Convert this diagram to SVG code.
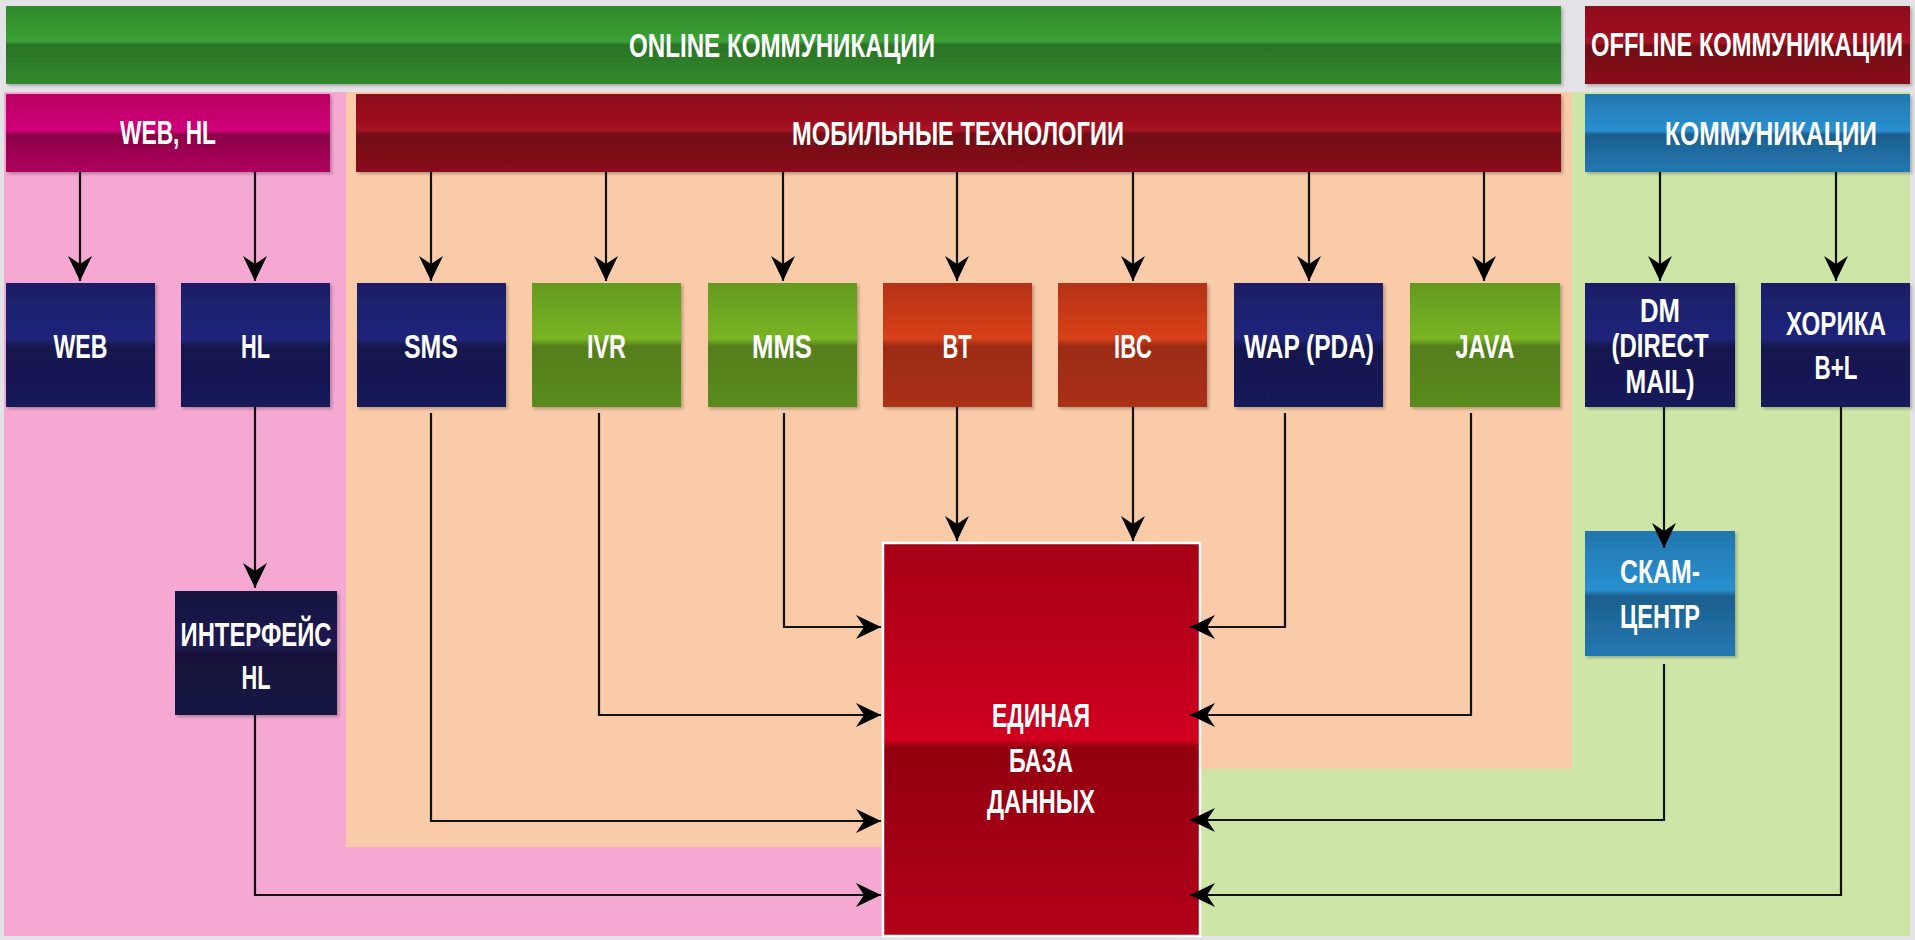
<svg xmlns="http://www.w3.org/2000/svg" width="1915" height="940" viewBox="0 0 1915 940">
<style>
.t{font-family:"Liberation Sans Narrow","Liberation Sans","DejaVu Sans Condensed",sans-serif;font-weight:bold;font-size:34px;font-stretch:condensed;fill:#fff;text-anchor:middle}
.c{fill:none;stroke:#111;stroke-width:2.2}
</style>
<defs>
<linearGradient id="gBar" x1="0" y1="0" x2="0" y2="1"><stop offset="0" stop-color="#2e8a2a"/><stop offset="0.45" stop-color="#3ba136"/><stop offset="0.5" stop-color="#2a7326"/><stop offset="1" stop-color="#33892d"/></linearGradient>
<linearGradient id="gRed" x1="0" y1="0" x2="0" y2="1"><stop offset="0" stop-color="#8b0d1a"/><stop offset="0.47" stop-color="#a51222"/><stop offset="0.52" stop-color="#700a15"/><stop offset="1" stop-color="#8a0e1b"/></linearGradient>
<linearGradient id="gMag" x1="0" y1="0" x2="0" y2="1"><stop offset="0" stop-color="#b8005f"/><stop offset="0.47" stop-color="#d0007a"/><stop offset="0.52" stop-color="#8a0046"/><stop offset="1" stop-color="#b0005e"/></linearGradient>
<linearGradient id="gBlue" x1="0" y1="0" x2="0" y2="1"><stop offset="0" stop-color="#2376ae"/><stop offset="0.47" stop-color="#2990d0"/><stop offset="0.52" stop-color="#1c5f8e"/><stop offset="1" stop-color="#2478b2"/></linearGradient>
<linearGradient id="gNavy" x1="0" y1="0" x2="0" y2="1"><stop offset="0" stop-color="#1b1e66"/><stop offset="0.45" stop-color="#20247a"/><stop offset="0.51" stop-color="#15174f"/><stop offset="1" stop-color="#181a5a"/></linearGradient>
<linearGradient id="gGreen" x1="0" y1="0" x2="0" y2="1"><stop offset="0" stop-color="#64991f"/><stop offset="0.45" stop-color="#78b424"/><stop offset="0.51" stop-color="#557e1d"/><stop offset="1" stop-color="#5a8c1f"/></linearGradient>
<linearGradient id="gOrange" x1="0" y1="0" x2="0" y2="1"><stop offset="0" stop-color="#b33214"/><stop offset="0.45" stop-color="#d8401a"/><stop offset="0.51" stop-color="#9c2c12"/><stop offset="1" stop-color="#aa3014"/></linearGradient>
<linearGradient id="gDark" x1="0" y1="0" x2="0" y2="1"><stop offset="0" stop-color="#16133f"/><stop offset="0.45" stop-color="#1c1a50"/><stop offset="0.5" stop-color="#14113a"/><stop offset="1" stop-color="#181546"/></linearGradient>
<linearGradient id="gDB" x1="0" y1="0" x2="0" y2="1"><stop offset="0" stop-color="#a50016"/><stop offset="0.42" stop-color="#c8001d"/><stop offset="0.5" stop-color="#d2001f"/><stop offset="0.52" stop-color="#92000f"/><stop offset="1" stop-color="#b20019"/></linearGradient>
<filter id="sh" x="-5%" y="-5%" width="115%" height="115%"><feDropShadow dx="2" dy="2" stdDeviation="1.5" flood-color="#000" flood-opacity="0.25"/></filter>
<marker id="ah" markerUnits="userSpaceOnUse" markerWidth="28" markerHeight="28" viewBox="-26 -13 28 26" refX="0" refY="0" orient="auto">
<path d="M0,0 L-25,-12 L-17,0 L-25,12 Z" fill="#000"/>
</marker>
</defs>
<rect x="0" y="0" width="1915" height="940" fill="#e3e3e7"/>
<g id="backgrounds">
<rect x="4" y="92" width="879" height="844" fill="#f4a8d2"/>
<rect x="1200" y="92" width="710" height="844" fill="#cde6a8"/>
<path d="M346,92 H1572 V769 H1041 V847 H346 Z" fill="#f9cba8"/>
</g>
<g id="online">
<rect x="6" y="6" width="1555" height="78" fill="url(#gBar)" filter="url(#sh)"/>
<text class="t" x="782" y="57" textLength="306" lengthAdjust="spacingAndGlyphs">ONLINE КОММУНИКАЦИИ</text>
</g>
<g id="offline">
<rect x="1585" y="6" width="325" height="78" fill="url(#gRed)" filter="url(#sh)"/>
<text class="t" x="1747" y="56" textLength="312" lengthAdjust="spacingAndGlyphs">OFFLINE КОММУНИКАЦИИ</text>
</g>
<g id="webhl">
<rect x="6" y="94" width="324" height="78" fill="url(#gMag)" filter="url(#sh)"/>
<text class="t" x="168" y="144" textLength="96" lengthAdjust="spacingAndGlyphs">WEB, HL</text>
</g>
<g id="mobile">
<rect x="356" y="94" width="1205" height="78" fill="url(#gRed)" filter="url(#sh)"/>
<text class="t" x="958" y="145" textLength="332" lengthAdjust="spacingAndGlyphs">МОБИЛЬНЫЕ ТЕХНОЛОГИИ</text>
</g>
<g id="komm">
<rect x="1585" y="94" width="325" height="78" fill="url(#gBlue)" filter="url(#sh)"/>
<text class="t" x="1771" y="145" textLength="212" lengthAdjust="spacingAndGlyphs">КОММУНИКАЦИИ</text>
</g>
<g id="web">
<rect x="6" y="283" width="149" height="124" fill="url(#gNavy)" filter="url(#sh)"/>
<text class="t" x="80.5" y="358" textLength="54" lengthAdjust="spacingAndGlyphs">WEB</text>
</g>
<g id="hl">
<rect x="181" y="283" width="149" height="124" fill="url(#gNavy)" filter="url(#sh)"/>
<text class="t" x="255.5" y="358" textLength="29" lengthAdjust="spacingAndGlyphs">HL</text>
</g>
<g id="sms">
<rect x="357" y="283" width="149" height="124" fill="url(#gNavy)" filter="url(#sh)"/>
<text class="t" x="431" y="358" textLength="54" lengthAdjust="spacingAndGlyphs">SMS</text>
</g>
<g id="ivr">
<rect x="532" y="283" width="149" height="124" fill="url(#gGreen)" filter="url(#sh)"/>
<text class="t" x="606.5" y="358" textLength="39" lengthAdjust="spacingAndGlyphs">IVR</text>
</g>
<g id="mms">
<rect x="708" y="283" width="149" height="124" fill="url(#gGreen)" filter="url(#sh)"/>
<text class="t" x="782" y="358" textLength="60" lengthAdjust="spacingAndGlyphs">MMS</text>
</g>
<g id="bt">
<rect x="883" y="283" width="149" height="124" fill="url(#gOrange)" filter="url(#sh)"/>
<text class="t" x="957" y="358" textLength="29" lengthAdjust="spacingAndGlyphs">BT</text>
</g>
<g id="ibc">
<rect x="1058" y="283" width="149" height="124" fill="url(#gOrange)" filter="url(#sh)"/>
<text class="t" x="1133" y="358" textLength="38" lengthAdjust="spacingAndGlyphs">IBC</text>
</g>
<g id="wap">
<rect x="1234" y="283" width="149" height="124" fill="url(#gNavy)" filter="url(#sh)"/>
<text class="t" x="1309" y="358" textLength="130" lengthAdjust="spacingAndGlyphs">WAP (PDA)</text>
</g>
<g id="java">
<rect x="1410" y="283" width="150" height="124" fill="url(#gGreen)" filter="url(#sh)"/>
<text class="t" x="1485" y="358" textLength="59" lengthAdjust="spacingAndGlyphs">JAVA</text>
</g>
<g id="dm">
<rect x="1585" y="283" width="150" height="124" fill="url(#gNavy)" filter="url(#sh)"/>
<text class="t" x="1660" y="322" textLength="40" lengthAdjust="spacingAndGlyphs">DM</text>
<text class="t" x="1660" y="357" textLength="97" lengthAdjust="spacingAndGlyphs">(DIRECT</text>
<text class="t" x="1660" y="393" textLength="69" lengthAdjust="spacingAndGlyphs">MAIL)</text>
</g>
<g id="horika">
<rect x="1761" y="283" width="149" height="124" fill="url(#gNavy)" filter="url(#sh)"/>
<text class="t" x="1836" y="335" textLength="100" lengthAdjust="spacingAndGlyphs">ХОРИКА</text>
<text class="t" x="1836" y="379" textLength="43" lengthAdjust="spacingAndGlyphs">B+L</text>
</g>
<g id="interface">
<rect x="175" y="591" width="162" height="124" fill="url(#gDark)" filter="url(#sh)"/>
<text class="t" x="256" y="646" textLength="151" lengthAdjust="spacingAndGlyphs">ИНТЕРФЕЙС</text>
<text class="t" x="256" y="689" textLength="29" lengthAdjust="spacingAndGlyphs">HL</text>
</g>
<g id="skam">
<rect x="1585" y="531" width="150" height="125" fill="url(#gBlue)" filter="url(#sh)"/>
<text class="t" x="1660" y="583" textLength="80" lengthAdjust="spacingAndGlyphs">СКАМ-</text>
<text class="t" x="1660" y="628" textLength="80" lengthAdjust="spacingAndGlyphs">ЦЕНТР</text>
</g>
<g id="connectors">
<path class="c" d="M80,172 V281" marker-end="url(#ah)"/>
<path class="c" d="M255,172 V281" marker-end="url(#ah)"/>
<path class="c" d="M431,172 V281" marker-end="url(#ah)"/>
<path class="c" d="M606,172 V281" marker-end="url(#ah)"/>
<path class="c" d="M783,172 V281" marker-end="url(#ah)"/>
<path class="c" d="M957,172 V281" marker-end="url(#ah)"/>
<path class="c" d="M1133,172 V281" marker-end="url(#ah)"/>
<path class="c" d="M1309,172 V281" marker-end="url(#ah)"/>
<path class="c" d="M1484,172 V281" marker-end="url(#ah)"/>
<path class="c" d="M1660,172 V281" marker-end="url(#ah)"/>
<path class="c" d="M1836,172 V281" marker-end="url(#ah)"/>
<path class="c" d="M255,407 V588" marker-end="url(#ah)"/>
<path class="c" d="M1664,407 V548" marker-end="url(#ah)"/>
<path class="c" d="M255,715 V895 H881" marker-end="url(#ah)"/>
<path class="c" d="M431,413 V821 H881" marker-end="url(#ah)"/>
<path class="c" d="M599,413 V715 H881" marker-end="url(#ah)"/>
<path class="c" d="M784,413 V627 H881" marker-end="url(#ah)"/>
</g>
<g id="database">
<rect x="883" y="543" width="317" height="393" fill="url(#gDB)" stroke="#fff" stroke-width="2.5"/>
<text class="t" x="1041" y="727" textLength="98" lengthAdjust="spacingAndGlyphs">ЕДИНАЯ</text>
<text class="t" x="1041" y="772" textLength="64" lengthAdjust="spacingAndGlyphs">БАЗА</text>
<text class="t" x="1041" y="813" textLength="108" lengthAdjust="spacingAndGlyphs">ДАННЫХ</text>
</g>
<g id="connectors-db">
<path class="c" d="M957,407 V541" marker-end="url(#ah)"/>
<path class="c" d="M1133,407 V541" marker-end="url(#ah)"/>
<path class="c" d="M1285,413 V627 H1190" marker-end="url(#ah)"/>
<path class="c" d="M1471,413 V715 H1190" marker-end="url(#ah)"/>
<path class="c" d="M1664,664 V820 H1190" marker-end="url(#ah)"/>
<path class="c" d="M1841,407 V895 H1190" marker-end="url(#ah)"/>
</g>
</svg>
